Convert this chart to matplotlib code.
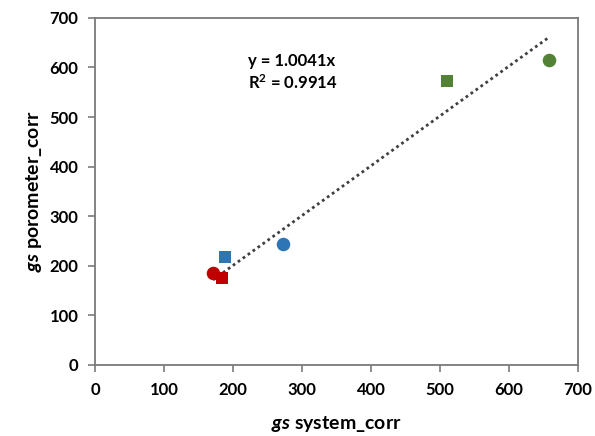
import matplotlib
matplotlib.use('Agg')
import matplotlib.pyplot as plt
import numpy as np

plt.rcParams['font.family'] = ['Lato', 'DejaVu Sans']
plt.rcParams['mathtext.fontset'] = 'custom'
plt.rcParams['mathtext.it'] = 'Lato:italic:bold'
plt.rcParams['mathtext.bf'] = 'Lato:bold'
plt.rcParams['mathtext.rm'] = 'Lato:bold'

# gs values (system vs porometer), one point per treatment
labels = ['red_circle', 'red_square', 'blue_square', 'blue_circle', 'green_square', 'green_circle']
gs_system = [171, 184, 188, 272, 510, 659]
gs_porometer = [185, 175, 218, 244, 573, 616]
colors = ['#C00000', '#C00000', '#2E75B6', '#2E75B6', '#538135', '#538135']
markers = ['o', 's', 's', 'o', 's', 'o']

slope = 1.0041
r2 = 0.9914

fig = plt.figure(figsize=(5.95, 4.36), dpi=100)
ax = fig.add_axes([0.16, 0.163, 0.811, 0.796])

# trendline through origin, over data range (like Excel)
xs = np.array([min(gs_system), max(gs_system)])
ax.plot(xs, slope * xs, linestyle=(0, (1, 1.2)), color='#404040', linewidth=2, zorder=2)

for x, y, c, m in zip(gs_system, gs_porometer, colors, markers):
    size = 95 if m == 'o' else 85
    ax.scatter(x, y, s=size, marker=m, color=c, zorder=3, linewidths=0)

ax.text(222, 613, 'y = %.4fx' % slope, fontsize=12, fontweight='bold', va='center', ha='left')
ax.text(222, 569, 'R$^\\mathbf{2}$ = %.4f' % r2, fontsize=12, fontweight='bold', va='center', ha='left')

ax.set_xlim(0, 700)
ax.set_ylim(0, 700)
ax.set_xticks(range(0, 701, 100))
ax.set_yticks(range(0, 701, 100))
for lab in ax.get_xticklabels() + ax.get_yticklabels():
    lab.set_fontweight('bold')
    lab.set_fontsize(12)

for sp in ax.spines.values():
    sp.set_color('#7a7a7a')
    sp.set_linewidth(1.3)
ax.tick_params(direction='out', length=5, color='#7a7a7a', width=1.2, pad=7)

ax.set_xlabel('$\\it{gs}$ system_corr', fontsize=14, fontweight='bold', labelpad=12)
ax.set_ylabel('$\\it{gs}$ porometer_corr', fontsize=14, fontweight='bold', labelpad=4)

fig.savefig('out.png', dpi=100)
